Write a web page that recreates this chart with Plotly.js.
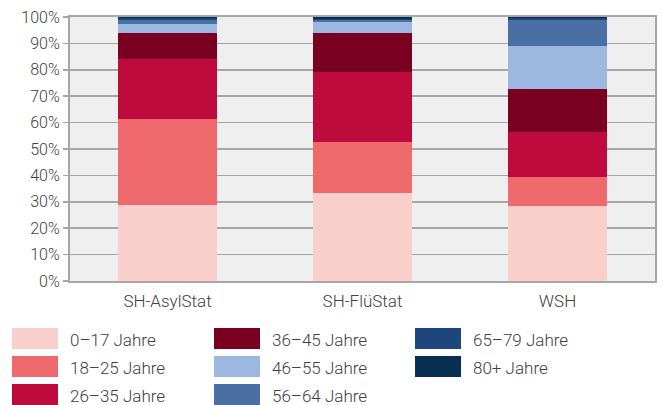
<!DOCTYPE html>
<html>
<head>
<meta charset="utf-8">
<script src="https://cdn.plot.ly/plotly-3.0.1.min.js"></script>
<style>html,body{margin:0;padding:0;background:#fff;}#chart{width:662px;height:405px;}</style>
</head>
<body>
<div id="chart"></div>
<script>
// Data
var categories = ['SH-AsylStat', 'SH-FlüStat', 'WSH'];
var seriesNames = ['0–17 Jahre', '18–25 Jahre', '26–35 Jahre', '36–45 Jahre', '46–55 Jahre', '56–64 Jahre', '65–79 Jahre', '80+ Jahre'];
var age0_17  = [28.7, 33.3, 28.4];
var age18_25 = [32.7, 19.4, 11.0];
var age26_35 = [22.7, 26.5, 17.1];
var age36_45 = [9.8, 14.8, 16.3];
var age46_55 = [3.4, 4.2, 16.4];
var age56_64 = [1.5, 0.8, 9.8];
var age65_79 = [0.8, 0.4, 0.8];
var age80p   = [0.4, 0.6, 0.2];
var yTickVals = [0, 10, 20, 30, 40, 50, 60, 70, 80, 90, 100];
var yTickText = ['0%', '10%', '20%', '30%', '40%', '50%', '60%', '70%', '80%', '90%', '100%'];

var seriesValues = [age0_17, age18_25, age26_35, age36_45, age46_55, age56_64, age65_79, age80p];
var colors = ['#f8cfca', '#ee6a6d', '#be0a3c', '#7a0022', '#9db8e0', '#4a6fa5', '#1c467c', '#062f52'];

var traces = seriesNames.map(function (n, i) {
  return {
    type: 'bar', name: n, x: categories, y: seriesValues[i],
    marker: { color: colors[i], line: { width: 0 } },
    showlegend: false, hoverinfo: 'skip'
  };
});

// Custom legend (column-major, 3 rows)
var plotL = 70, plotR = 655, plotT = 17, plotB = 281;
var pw = plotR - plotL, ph = plotB - plotT;
function px2x(p) { return (p - plotL) / pw; }
function px2y(p) { return (plotB - p) / ph; }
var colX = [12, 214, 415];
var rowY = [338.5, 366.5, 394.5];
var shapes = [], annotations = [];
seriesNames.forEach(function (n, i) {
  var c = Math.floor(i / 3), r = i % 3;
  var x0 = colX[c], yc = rowY[r];
  shapes.push({
    type: 'rect', xref: 'paper', yref: 'paper',
    x0: px2x(x0), x1: px2x(x0 + 46), y0: px2y(yc + 10.5), y1: px2y(yc - 10.5),
    fillcolor: colors[i], line: { width: 0 }
  });
  annotations.push({
    xref: 'paper', yref: 'paper', x: px2x(x0 + 56), y: px2y(yc + 1),
    xanchor: 'left', yanchor: 'middle', showarrow: false,
    text: n, font: { family: 'Roboto', size: 17, color: '#404040', weight: 300 }
  });
});

var layout = {
  width: 662, height: 405,
  margin: { l: plotL, r: 662 - plotR, t: plotT, b: 405 - plotB },
  paper_bgcolor: '#ffffff', plot_bgcolor: '#efefef',
  barmode: 'stack', bargap: 0.49,
  font: { family: 'Roboto', size: 16, color: '#404040', weight: 300 },
  xaxis: {
    showline: true, linecolor: '#a6a6a6', linewidth: 2, mirror: true,
    ticks: '', showgrid: false, ticklabelstandoff: 4,
    tickfont: { family: 'Roboto', size: 17, color: '#404040', weight: 300 },
    fixedrange: true
  },
  yaxis: {
    range: [0, 100], tickvals: yTickVals, ticktext: yTickText,
    showline: true, linecolor: '#a6a6a6', linewidth: 2, mirror: true,
    ticks: 'outside', ticklen: 5, tickcolor: '#a6a6a6', tickwidth: 1.5,
    showgrid: true, gridcolor: '#a6a6a6', gridwidth: 1.5, zeroline: false,
    tickfont: { family: 'Roboto', size: 16, color: '#404040', weight: 300 },
    fixedrange: true
  },
  shapes: shapes,
  annotations: annotations
};

Plotly.newPlot('chart', traces, layout, { displayModeBar: false, staticPlot: true });
</script>
</body>
</html>
